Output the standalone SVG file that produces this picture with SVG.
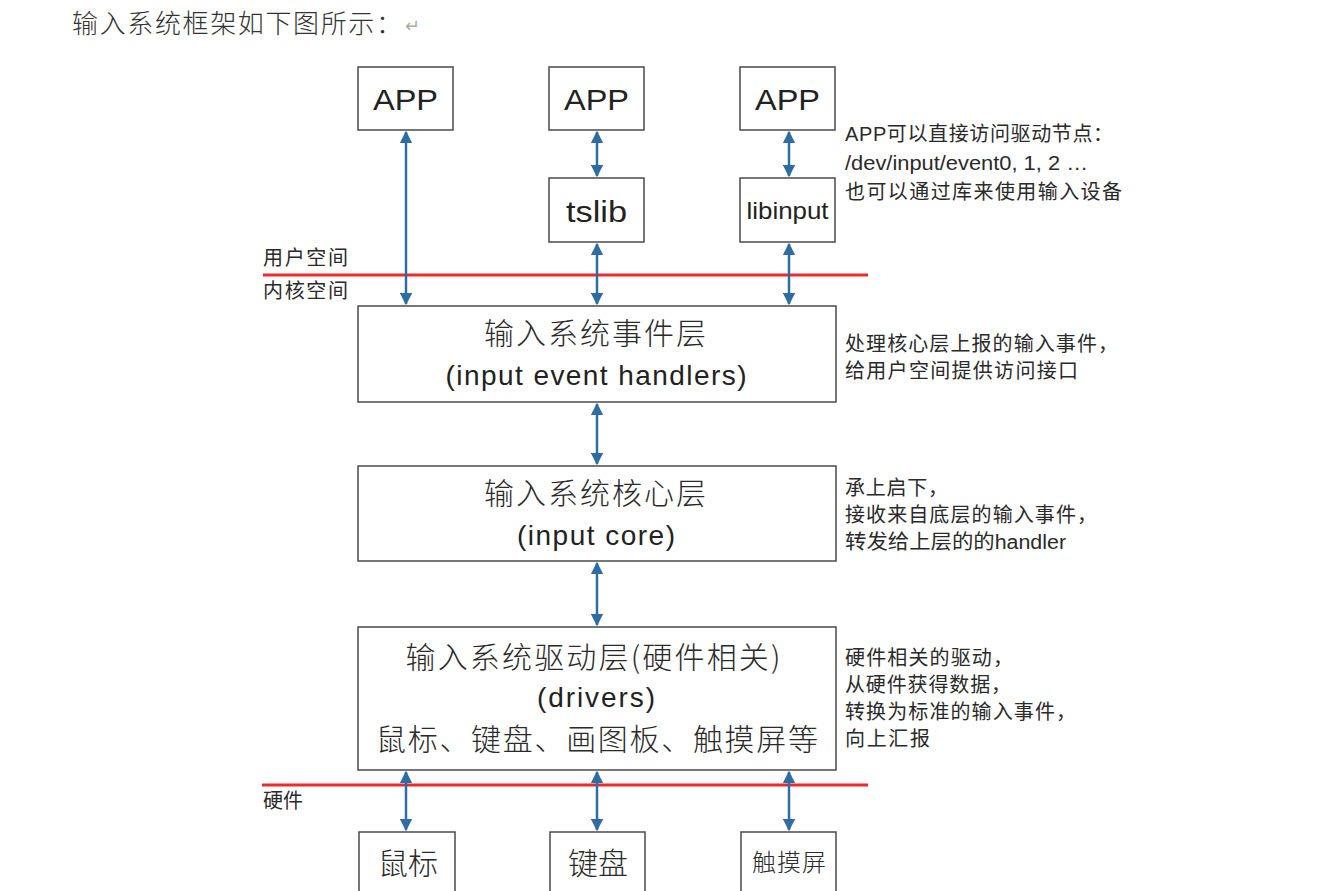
<svg xmlns="http://www.w3.org/2000/svg" width="1326" height="891" viewBox="0 0 1326 891">
<style>
.box{fill:#fff;stroke:#4a4a4a;stroke-width:1.5}
.t{font-family:"Liberation Sans","Noto Sans CJK SC",sans-serif;fill:#222;text-anchor:middle}
.z{font-family:"Noto Sans CJK SC",sans-serif;font-weight:300;fill:#2a2a2a;text-anchor:middle}
.n{font-family:"Liberation Sans","Noto Sans CJK SC",sans-serif;fill:#2a2a2a;font-size:20px}
.c{stroke:#2e6da4;stroke-width:2.5;fill:none;marker-start:url(#a);marker-end:url(#a)}
.red{stroke:#ee2a2a;stroke-width:3}
</style>
<defs>
<marker id="a" viewBox="0 0 10 10" refX="9" refY="5" markerWidth="5" markerHeight="5" orient="auto-start-reverse" markerUnits="strokeWidth">
<path d="M0,0 L10,5 L0,10 z" fill="#2e6da4"/>
</marker>
</defs>
<rect width="1326" height="891" fill="#fff"/>
<text x="72" y="33" font-family="'Noto Sans CJK SC',sans-serif" font-weight="300" font-size="26" fill="#333" textLength="330" lengthAdjust="spacing">输入系统框架如下图所示：</text>
<text x="405" y="32" font-family="'Noto Sans CJK SC',sans-serif" font-size="18" fill="#aaa">↵</text>

<g id="lines">
<line class="red" x1="263" y1="275" x2="868" y2="275"/>
<line class="red" x1="262" y1="785" x2="868" y2="785"/>
</g>
<g id="labels">
<text x="263" y="265" class="n" textLength="85" lengthAdjust="spacing">用户空间</text>
<text x="263" y="298" class="n" textLength="85" lengthAdjust="spacing">内核空间</text>
<text x="263" y="808" class="n" textLength="40" lengthAdjust="spacing">硬件</text>
</g>

<g id="connectors">
<line class="c" x1="406" y1="132" x2="406" y2="304"/>
<line class="c" x1="597" y1="132" x2="597" y2="176"/>
<line class="c" x1="789" y1="132" x2="789" y2="176"/>
<line class="c" x1="597" y1="244" x2="597" y2="304"/>
<line class="c" x1="789" y1="244" x2="789" y2="304"/>
<line class="c" x1="597" y1="404" x2="597" y2="464"/>
<line class="c" x1="597" y1="563" x2="597" y2="625"/>
<line class="c" x1="406" y1="772" x2="406" y2="830"/>
<line class="c" x1="597" y1="772" x2="597" y2="830"/>
<line class="c" x1="789" y1="772" x2="789" y2="830"/>
</g>

<g id="app1"><rect class="box" x="358" y="67" width="95" height="63"/><text class="t" x="405.5" y="110" font-size="30" textLength="65" lengthAdjust="spacingAndGlyphs">APP</text></g>
<g id="app2"><rect class="box" x="549" y="67" width="95" height="63"/><text class="t" x="596.5" y="110" font-size="30" textLength="65" lengthAdjust="spacingAndGlyphs">APP</text></g>
<g id="app3"><rect class="box" x="740" y="67" width="95" height="63"/><text class="t" x="787.5" y="110" font-size="30" textLength="65" lengthAdjust="spacingAndGlyphs">APP</text></g>
<g id="tslib"><rect class="box" x="549" y="178" width="95" height="64"/><text class="t" x="596.5" y="222" font-size="30" textLength="61" lengthAdjust="spacingAndGlyphs">tslib</text></g>
<g id="libinput"><rect class="box" x="740" y="178" width="95" height="64"/><text class="t" x="787.5" y="219" font-size="24" textLength="82" lengthAdjust="spacingAndGlyphs">libinput</text></g>

<g id="event"><rect class="box" x="358" y="306" width="478" height="96"/>
<text class="z" x="595" y="344" font-size="30" textLength="222" lengthAdjust="spacing">输入系统事件层</text>
<text class="t" x="596" y="385" font-size="28" textLength="301" lengthAdjust="spacing">(input event handlers)</text></g>
<g id="core"><rect class="box" x="358" y="466" width="478" height="95"/>
<text class="z" x="595" y="504" font-size="30" textLength="222" lengthAdjust="spacing">输入系统核心层</text>
<text class="t" x="596" y="545" font-size="28" textLength="158" lengthAdjust="spacing">(input core)</text></g>
<g id="drivers"><rect class="box" x="358" y="627" width="478" height="143"/>
<text class="z" x="593" y="668" font-size="30" textLength="375" lengthAdjust="spacing">输入系统驱动层(硬件相关)</text>
<text class="t" x="596" y="707" font-size="28" textLength="118" lengthAdjust="spacing">(drivers)</text>
<text class="z" x="597" y="750" font-size="30" textLength="442" lengthAdjust="spacing">鼠标、键盘、画图板、触摸屏等</text></g>

<g id="mouse"><rect class="box" x="359" y="832" width="96" height="70"/><text class="z" x="408" y="874" font-size="30" textLength="60" lengthAdjust="spacing">鼠标</text></g>
<g id="keyboard"><rect class="box" x="550" y="832" width="95" height="70"/><text class="z" x="598" y="874" font-size="30" textLength="60" lengthAdjust="spacing">键盘</text></g>
<g id="touch"><rect class="box" x="741" y="832" width="95" height="70"/><text class="z" x="789" y="871" font-size="24" textLength="74" lengthAdjust="spacing">触摸屏</text></g>

<g id="notes">
<text class="n" x="845" y="141" textLength="268" lengthAdjust="spacing">APP可以直接访问驱动节点：</text>
<text class="n" x="845" y="170" textLength="243" lengthAdjust="spacingAndGlyphs">/dev/input/event0, 1, 2 …</text>
<text class="n" x="845" y="199" textLength="277" lengthAdjust="spacing">也可以通过库来使用输入设备</text>
<text class="n" x="845" y="351" textLength="273" lengthAdjust="spacing">处理核心层上报的输入事件，</text>
<text class="n" x="845" y="378" textLength="233" lengthAdjust="spacing">给用户空间提供访问接口</text>
<text class="n" x="845" y="495" textLength="103" lengthAdjust="spacing">承上启下，</text>
<text class="n" x="845" y="522" textLength="252" lengthAdjust="spacing">接收来自底层的输入事件，</text>
<text class="n" x="845" y="549" textLength="221" lengthAdjust="spacingAndGlyphs">转发给上层的的handler</text>
<text class="n" x="845" y="665" textLength="168" lengthAdjust="spacing">硬件相关的驱动，</text>
<text class="n" x="845" y="692" textLength="166" lengthAdjust="spacing">从硬件获得数据，</text>
<text class="n" x="845" y="719" textLength="231" lengthAdjust="spacing">转换为标准的输入事件，</text>
<text class="n" x="845" y="746" textLength="85" lengthAdjust="spacing">向上汇报</text>
</g>
</svg>
